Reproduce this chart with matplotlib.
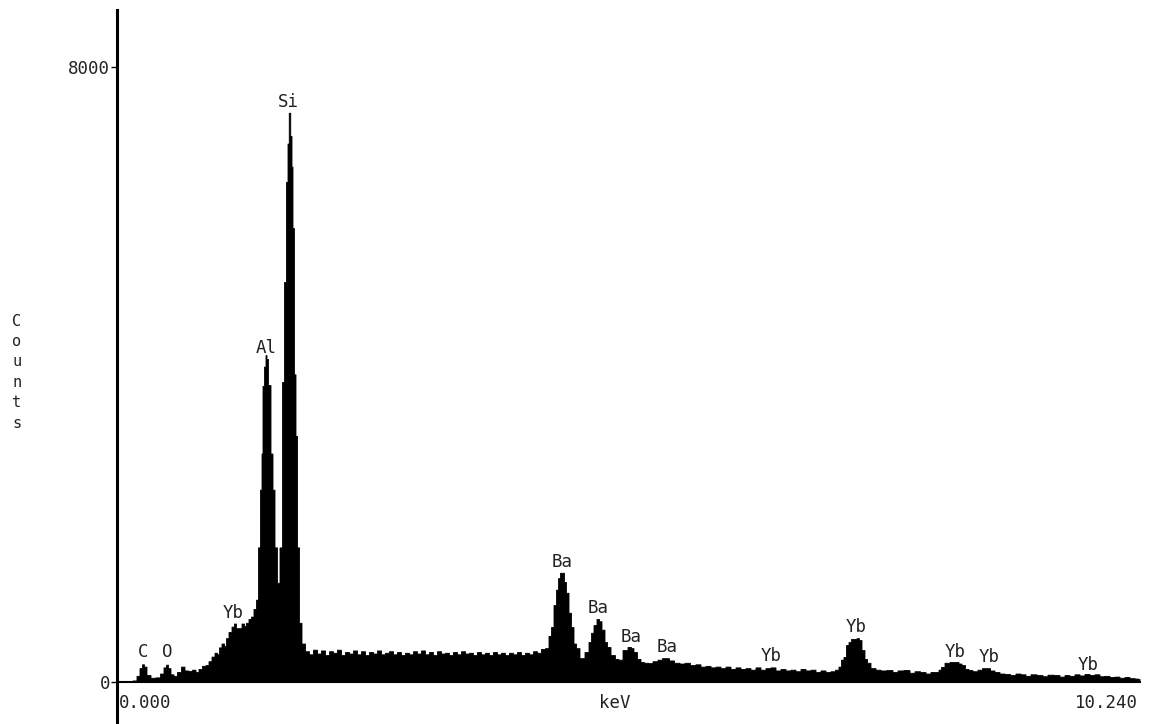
#--coding:utf-8--
# EDS spectrum: counts vs energy (keV), filled black like the instrument printout

import numpy as np
import matplotlib
matplotlib.use('Agg')
import matplotlib.pyplot as plt

# spectrum: energy (keV) and counts
energy = [0.00, 0.13, 0.18, 0.21, 0.24, 0.26, 0.28, 0.31, 0.36, 0.41,
          0.45, 0.48, 0.50, 0.52, 0.55, 0.58, 0.62, 0.66, 0.69, 0.73,
          0.77, 0.80, 0.83, 0.87, 0.90, 0.93, 0.96, 0.99, 1.01, 1.03,
          1.06, 1.08, 1.10, 1.13, 1.16, 1.18, 1.20, 1.23, 1.26, 1.28,
          1.30, 1.33, 1.35, 1.38, 1.40, 1.42, 1.44, 1.45, 1.46, 1.48,
          1.49, 1.50, 1.52, 1.55, 1.56, 1.59, 1.61, 1.64, 1.66, 1.68,
          1.70, 1.71, 1.725, 1.74, 1.75, 1.76, 1.78, 1.79, 1.81, 1.83,
          1.86, 1.90,
          1.94, 1.98, 2.02, 2.06, 2.10, 2.14, 2.18, 2.22, 2.26, 2.30,
          2.34, 2.38, 2.42, 2.46, 2.50, 2.54, 2.58, 2.62, 2.66, 2.70,
          2.74, 2.78, 2.82, 2.86, 2.90, 2.94, 2.98, 3.02, 3.06, 3.10,
          3.14, 3.18, 3.22, 3.26, 3.30, 3.34, 3.38, 3.42, 3.46, 3.50,
          3.54, 3.58, 3.62, 3.66, 3.70, 3.74, 3.78, 3.82, 3.86, 3.90,
          3.94, 3.98, 4.02, 4.06, 4.10, 4.14, 4.18, 4.22,
          4.26, 4.30, 4.33, 4.35, 4.38, 4.40, 4.42, 4.44, 4.46, 4.48,
          4.50, 4.53, 4.55, 4.58, 4.60, 4.65, 4.70, 4.73, 4.75, 4.78,
          4.81, 4.83, 4.86, 4.89, 4.91, 4.96, 5.00, 5.03, 5.08, 5.13,
          5.15, 5.18, 5.22, 5.25, 5.29, 5.33, 5.38, 5.43, 5.47, 5.50,
          5.54, 5.60, 5.65, 5.70, 5.76, 5.81, 5.86, 5.91, 5.96, 6.01,
          6.06, 6.11, 6.16, 6.21, 6.26, 6.31, 6.36, 6.41, 6.46, 6.51,
          6.56, 6.61, 6.66, 6.71, 6.76, 6.81, 6.86, 6.91, 6.96, 7.01,
          7.06, 7.11, 7.16, 7.20, 7.23, 7.25, 7.28, 7.30, 7.33, 7.35,
          7.38, 7.41, 7.43, 7.46, 7.49, 7.51, 7.56, 7.61, 7.66, 7.73,
          7.78, 7.83, 7.90, 7.95, 8.00, 8.06, 8.11, 8.16, 8.20, 8.23,
          8.25, 8.30, 8.35, 8.40, 8.43, 8.46, 8.50, 8.53, 8.58, 8.63,
          8.67, 8.71, 8.75, 8.80, 8.85, 8.90, 8.96, 9.01, 9.06, 9.11,
          9.16, 9.23, 9.28, 9.33, 9.40, 9.45, 9.50, 9.55, 9.60, 9.65,
          9.70, 9.75, 9.80, 9.85, 9.90, 9.95, 10.00, 10.05, 10.10, 10.15,
          10.20, 10.22, 10.23]
counts = [0, 0, 20, 80, 180, 230, 200, 90, 55, 60,
          110, 190, 225, 180, 100, 80, 130, 200, 150, 145,
          160, 130, 170, 210, 220, 270, 330, 380, 360, 450,
          500, 470, 570, 650, 720, 760, 700, 700, 760, 730,
          770, 820, 850, 950, 1070, 1750, 2500, 2970, 3850, 4100,
          4250, 4200, 3860, 2970, 2500, 1750, 1290, 1750, 3900, 5200,
          6500, 7000, 7400, 7100, 6700, 5900, 4000, 3200, 1750, 770,
          500, 400,
          360, 420, 370, 410, 350, 400, 380, 420, 350, 390,
          370, 410, 360, 400, 350, 390, 370, 410, 360, 380,
          400, 360, 390, 350, 380, 360, 400, 370, 410, 360,
          390, 350, 400, 370, 380, 350, 390, 360, 400, 370,
          380, 350, 390, 360, 380, 350, 390, 360, 380, 350,
          380, 360, 390, 350, 380, 360, 400, 380,
          430, 440, 600, 715, 1000, 1200, 1350, 1420, 1420, 1300,
          1160, 900, 715, 500, 440, 310, 390, 520, 640, 740,
          820, 790, 680, 520, 455, 350, 300, 290, 415, 455,
          440, 390, 300, 260, 250, 245, 270, 290, 310, 310,
          280, 250, 240, 250, 220, 230, 200, 210, 190, 200,
          180, 200, 170, 190, 170, 180, 160, 190, 160, 180,
          190, 150, 170, 150, 160, 140, 170, 150, 160, 130,
          150, 130, 140, 160, 200, 290, 325, 480, 520, 560,
          560, 570, 545, 415, 300, 250, 180, 160, 150, 155,
          130, 150, 155, 120, 140, 130, 110, 130, 130, 160,
          195, 250, 260, 260, 240, 220, 170, 155, 140, 160,
          180, 180, 150, 130, 110, 105, 90, 110, 100, 80,
          100, 90, 75, 95, 90, 70, 90, 80, 100, 85,
          105, 90, 100, 75, 80, 65, 70, 55, 65, 50,
          45, 40, 0]

# element labels: name, energy (keV), height (counts)
peak_names = ['C', 'O', 'Yb', 'Al', 'Si', 'Ba', 'Ba', 'Ba', 'Ba',
              'Yb', 'Yb', 'Yb', 'Yb', 'Yb']
peak_kev = [0.26, 0.50, 1.16, 1.49, 1.71, 4.45, 4.81, 5.14, 5.50,
            6.54, 7.39, 8.38, 8.72, 9.71]
peak_cnt = [390, 390, 900, 4340, 7540, 1560, 960, 585, 455,
            340, 715, 390, 325, 220]

y_ticks = [0, 8000]
x_ends = ['0.000', '10.240']
x_label = 'keV'
y_label = 'Counts'


def plot_data():
    W, H = 1150, 724
    fig = plt.figure(figsize=(W / 100, H / 100), dpi=100)
    # axis line at pixel x=117, data ends at x=1141, top of y axis at y=10
    ax = fig.add_axes([117 / W, 0, (1141 - 117) / W, (H - 10) / H])

    cpp = 13.0                       # counts per pixel
    ax.set_xlim(0, 10.24)
    ax.set_ylim(-(H - 682) * cpp, (682 - 10) * cpp)

    e = np.array(energy)
    c = np.array(counts)
    # stepped fill, like the channel histogram of the analyser
    ax.fill_between(e, 0, c, step='mid', color='black', lw=0.6, edgecolor='black')
    ax.plot([0, 10.23], [0, 0], color='black', lw=1.5)

    font = {'family': 'DejaVu Sans Mono', 'size': 12.5, 'color': '#222222'}
    for name, x, y in zip(peak_names, peak_kev, peak_cnt):
        ax.text(x, y, name, ha='center', va='center', fontdict=font)

    # spines / ticks
    for s in ['top', 'right', 'bottom']:
        ax.spines[s].set_visible(False)
    ax.spines['left'].set_linewidth(2.2)
    ax.set_yticks(y_ticks)
    ax.set_yticklabels([str(v) for v in y_ticks], fontdict=font)
    ax.tick_params(axis='y', direction='out', length=4, width=1, pad=1)
    ax.set_xticks([])

    ax.text(0.02, -(703 - 682) * cpp, x_ends[0], ha='left', va='center', fontdict=font)
    ax.text(10.21, -(703 - 682) * cpp, x_ends[1], ha='right', va='center', fontdict=font)
    ax.text(4.98, -(703 - 682) * cpp, x_label, ha='center', va='center', fontdict=font)

    fig.text(17 / W, 1 - 372 / H, '\n'.join(y_label), ha='center', va='center',
             family='DejaVu Sans Mono', size=11, color='#222222', linespacing=1.45)

    plt.savefig('out.png', dpi=100, facecolor='white')


if __name__ == '__main__':
    plot_data()
